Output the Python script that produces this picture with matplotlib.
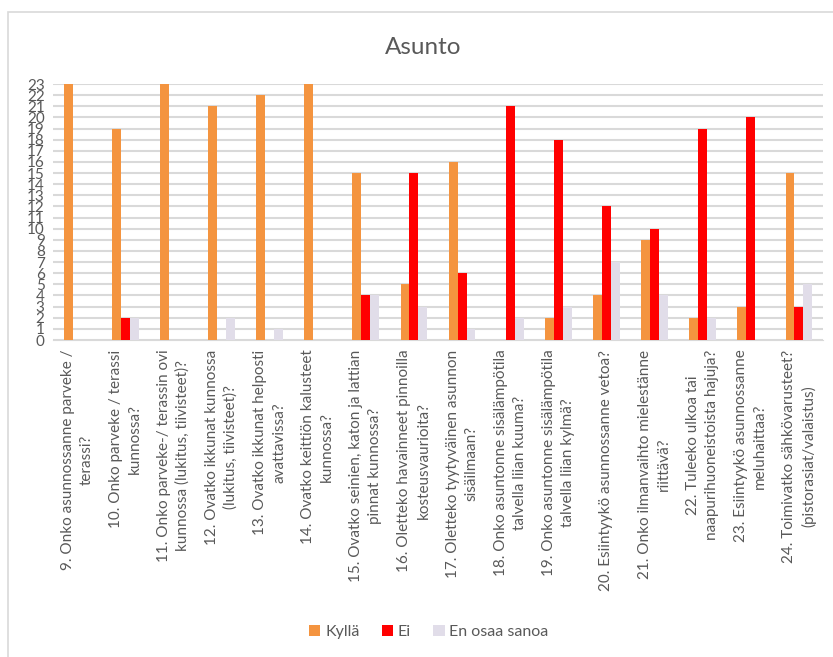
import matplotlib.pyplot as plt
import matplotlib.patches as patches
import numpy as np

plt.rcParams['font.family'] = ['Lato', 'DejaVu Sans']

kysymykset = [
    "9. Onko asunnossanne parveke /\nterassi?",
    "10. Onko parveke / terassi\nkunnossa?",
    "11. Onko parveke-/ terassin ovi\nkunnossa (lukitus, tiivisteet)?",
    "12. Ovatko ikkunat kunnossa\n(lukitus, tiivisteet)?",
    "13. Ovatko ikkunat helposti\navattavissa?",
    "14. Ovatko keittiön kalusteet\nkunnossa?",
    "15. Ovatko seinien, katon ja lattian\npinnat kunnossa?",
    "16. Oletteko havainneet pinnoilla\nkosteusvaurioita?",
    "17. Oletteko tyytyväinen asunnon\nsisäilmaan?",
    "18. Onko asuntonne sisälämpötila\ntalvella liian kuuma?",
    "19. Onko asuntonne sisälämpötila\ntalvella liian kylmä?",
    "20. Esiintyykö asunnossanne vetoa?",
    "21. Onko ilmanvaihto mielestänne\nriittävä?",
    "22. Tuleeko ulkoa tai\nnaapurihuoneistoista hajuja?",
    "23. Esiintyykö asunnossanne\nmeluhaittaa?",
    "24. Toimivatko sähkövarusteet?\n(pistorasiat/valaistus)",
]
kylla = [23, 19, 23, 21, 22, 23, 15, 5, 16, 0, 2, 4, 9, 2, 3, 15]
ei = [0, 2, 0, 0, 0, 0, 4, 15, 6, 21, 18, 12, 10, 19, 20, 3]
en_osaa = [0, 2, 0, 2, 1, 0, 4, 3, 1, 2, 3, 7, 4, 2, 0, 5]

fig = plt.figure(figsize=(8.33, 6.57), dpi=100)
ax = fig.add_axes([53/833, 1 - 340/657, 770/833, 256/657])

# chart frame (only top/left visible in the screenshot)
fig.patches.append(patches.Rectangle((8/833, -0.1), 1.2, 1 - 12/657 + 0.1,
                                     transform=fig.transFigure, fill=False,
                                     edgecolor='#D9D9D9', linewidth=1.2))

x = np.arange(len(kysymykset))
w = 0.185
ax.bar(x - w, kylla, w, color='#F4943F', label='Kyllä', zorder=3)
ax.bar(x, ei, w, color='#FF0000', label='Ei', zorder=3)
ax.bar(x + w, en_osaa, w, color='#E1DDE9', label='En osaa sanoa', zorder=3)

ax.set_xlim(-0.5, len(kysymykset) - 0.5)
ax.set_ylim(0, 23)
ax.set_yticks(range(24))
ax.tick_params(axis='y', length=0, labelsize=11, labelcolor='#595959', pad=6)
ax.set_xticks(x)
ax.set_xticklabels(kysymykset, rotation=90, ha='center', va='top',
                   multialignment='center', linespacing=1.45,
                   fontsize=11, color='#595959')
ax.tick_params(axis='x', length=0, pad=7)
ax.yaxis.grid(True, color='#D9D9D9', linewidth=1.5, zorder=0)
for s in ['top', 'right', 'left']:
    ax.spines[s].set_visible(False)
ax.spines['bottom'].set_color('#D9D9D9')

fig.text(0.508, 1 - 47/657, 'Asunto', ha='center', va='center',
         fontsize=17.5, color='#595959')

fig.legend(loc='center', bbox_to_anchor=(0.515, 1 - 632/657), ncol=3,
           frameon=False, fontsize=11.5, handlelength=0.7, handleheight=0.7,
           handletextpad=0.3, columnspacing=1.4, labelcolor='#595959')

fig.savefig('out.png', dpi=100)
